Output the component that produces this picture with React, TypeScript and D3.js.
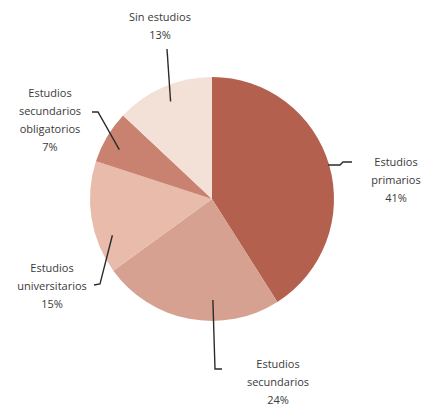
import React from "react";
import * as d3 from "d3";

const categories = [
  "Estudios primarios",
  "Estudios secundarios",
  "Estudios universitarios",
  "Estudios secundarios obligatorios",
  "Sin estudios",
];
const values = [41, 24, 15, 7, 13];
const labelLines = [
  ["Estudios", "primarios", "41%"],
  ["Estudios", "secundarios", "24%"],
  ["Estudios", "universitarios", "15%"],
  ["Estudios", "secundarios", "obligatorios", "7%"],
  ["Sin estudios", "13%"],
];
const colors = ["#b4604e", "#d6a190", "#e8bbab", "#c9826f", "#f3e0d7"];

// layout: leader anchor (degrees clockwise from top, radius), elbow points, text anchor
const W = 424, H = 406;
const cx = 212, cy = 199, R = 122;
const leaders = [
  { a: 73.7, r: 121, pts: [[340, 165], [343, 162], [352, 162]], tx: 396, ty: 162 },
  { a: 179.5, r: 101, pts: [[215, 369], [222, 369]], tx: 278, ty: 364 },
  { a: 250, r: 106, pts: [[100, 284], [94, 285]], tx: 52, ty: 268 },
  { a: 298, r: 105, pts: [[98, 112], [92, 112]], tx: 50, ty: 93 },
  { a: 337, r: 106, pts: [[167, 49]], tx: 160, ty: 17 },
];

export default function App() {
  const pie = d3.pie<number>().sort(null).value((d) => d)(values);
  const arc = d3.arc<d3.PieArcDatum<number>>().innerRadius(0).outerRadius(R);
  const line = d3.line();
  return (
    <svg width={W} height={H} style={{ position: "absolute", left: 0, top: 0, background: "#fff" }}>
      <g transform={`translate(${cx},${cy})`}>
        {pie.map((p, i) => (
          <path key={categories[i]} d={arc(p) || ""} fill={colors[i]} />
        ))}
      </g>
      {leaders.map((l, i) => {
        const rad = (l.a * Math.PI) / 180;
        const start: [number, number] = [cx + l.r * Math.sin(rad), cy - l.r * Math.cos(rad)];
        const pts = [start, ...(l.pts as [number, number][])];
        return (
          <path key={"l" + i} d={line(pts) || ""} fill="none" stroke="#2b2b2b" strokeWidth={1.4} />
        );
      })}
      {leaders.map((l, i) => (
        <text
          key={"t" + i}
          x={l.tx}
          y={l.ty}
          textAnchor="middle"
          fontFamily="'Open Sans', 'DejaVu Sans', sans-serif"
          fontSize={11}
          fill="#3a3a3a"
        >
          {labelLines[i].map((s, j) => (
            <tspan key={j} x={l.tx} dy={j === 0 ? 4 : 18}>
              {s}
            </tspan>
          ))}
        </text>
      ))}
    </svg>
  );
}
